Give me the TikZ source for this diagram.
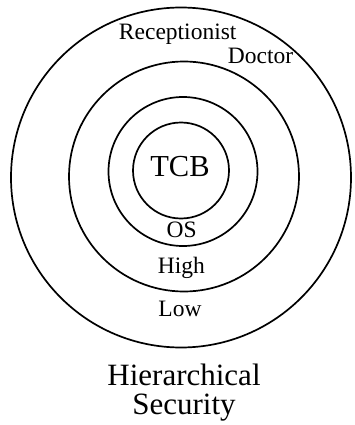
\documentclass[tikz,border=0pt]{standalone}
\usepackage{fontspec}
\setmainfont{Liberation Serif}
\tikzstyle{ring} = [circle, draw=black, line width=1.7pt, inner sep=0pt]
\tikzstyle{tag} = [anchor=base, inner sep=0pt, font=\fontsize{23.5}{26}\selectfont]
\tikzstyle{heading} = [anchor=base, inner sep=0pt, align=center, font=\fontsize{31}{28.5}\selectfont]

\begin{document}
\begin{tikzpicture}[x=1pt, y=-1pt]
\useasboundingbox (0,0) rectangle (354,425);
\node (tcbring) [ring, minimum size=96pt] at (181,170.5) {};
\node (osring) [ring, minimum size=149pt] at (183,171.5) {};
\node (highring) [ring, minimum size=230pt] at (184,176.5) {};
\node (lowring) [ring, minimum size=340pt] at (181,177.5) {};
\node (tcb) [tag, font=\fontsize{30.5}{32}\selectfont] at (180,176) {TCB};
\node (os) [tag] at (181.7,237.3) {OS};
\node (high) [tag] at (181.3,273.3) {High};
\node (low) [tag] at (180,316.7) {Low};
\node (recep) [tag] at (177.7,39.3) {Receptionist};
\node (doctor) [tag] at (260.5,63.3) {Doctor};
\node (title) [heading] at (184,414) {Hierarchical\\Security};
\end{tikzpicture}
\end{document}
